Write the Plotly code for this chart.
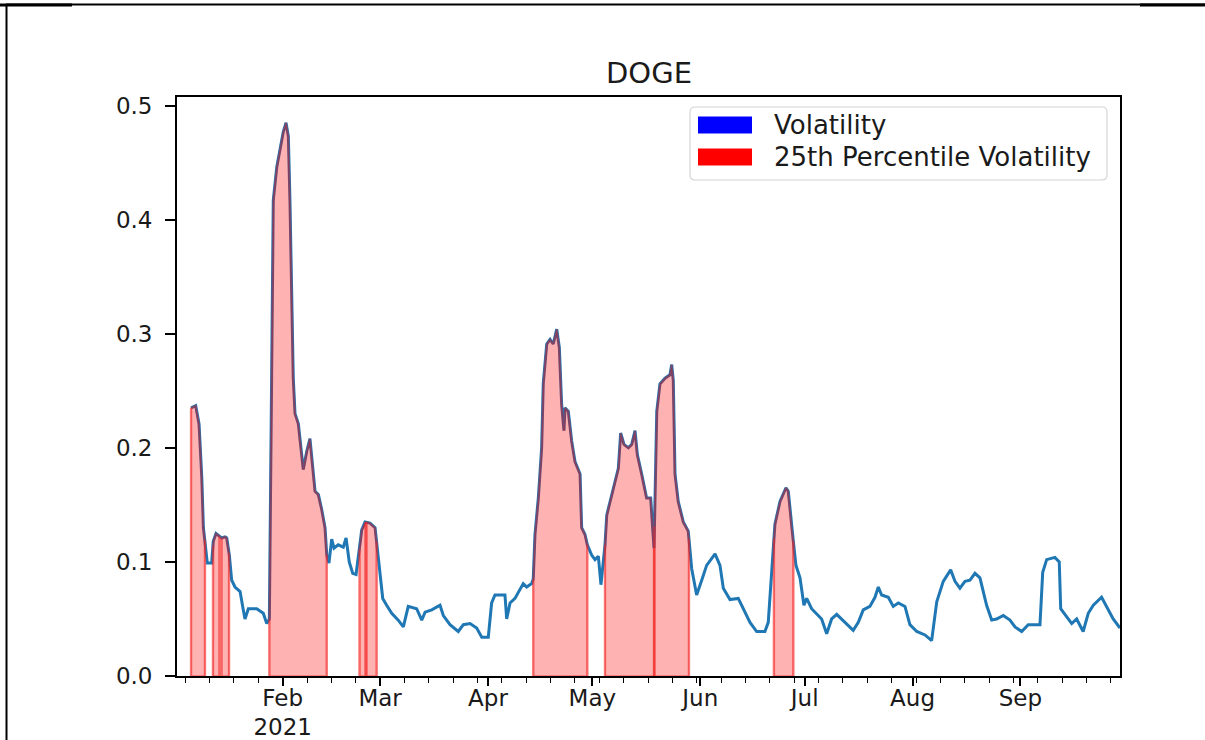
import numpy as np
import pandas as pd
import plotly.graph_objects as go

# Rolling volatility of DOGE, 2021
dates = [
    "2021-01-05 16:00", "2021-01-07 00:00", "2021-01-07 23:00", "2021-01-08 06:00", "2021-01-08 18:00",
    "2021-01-09 05:00", "2021-01-09 23:00", "2021-01-10 08:00", "2021-01-11 14:00", "2021-01-12 01:00",
    "2021-01-12 20:00", "2021-01-14 11:00", "2021-01-15 10:00", "2021-01-15 22:00", "2021-01-16 16:00",
    "2021-01-17 08:00", "2021-01-18 07:00", "2021-01-19 18:00", "2021-01-20 16:00", "2021-01-21 04:00",
    "2021-01-22 03:00", "2021-01-24 13:00", "2021-01-26 10:00", "2021-01-27 10:00", "2021-01-28 04:00",
    "2021-01-28 11:00", "2021-01-28 20:00", "2021-01-29 07:00", "2021-01-30 07:00", "2021-01-31 06:00",
    "2021-02-01 04:00", "2021-02-01 23:00", "2021-02-02 15:00", "2021-02-03 02:00", "2021-02-03 14:00",
    "2021-02-04 01:00", "2021-02-04 13:00", "2021-02-05 12:00", "2021-02-06 22:00", "2021-02-07 22:00",
    "2021-02-08 20:00", "2021-02-09 15:00", "2021-02-10 07:00", "2021-02-11 06:00", "2021-02-12 05:00",
    "2021-02-13 04:00", "2021-02-13 16:00", "2021-02-14 07:00", "2021-02-15 02:00", "2021-02-15 18:00",
    "2021-02-16 23:00", "2021-02-18 10:00", "2021-02-19 05:00", "2021-02-20 03:00", "2021-02-21 03:00",
    "2021-02-22 02:00", "2021-02-23 00:00", "2021-02-23 17:00", "2021-02-24 16:00", "2021-02-26 02:00",
    "2021-02-27 13:00", "2021-02-28 05:00", "2021-02-28 23:00", "2021-03-01 18:00", "2021-03-02 21:00",
    "2021-03-04 08:00", "2021-03-06 05:00", "2021-03-07 16:00", "2021-03-09 02:00", "2021-03-11 12:00",
    "2021-03-12 23:00", "2021-03-13 22:00", "2021-03-15 20:00", "2021-03-18 05:00", "2021-03-19 04:00",
    "2021-03-21 02:00", "2021-03-23 11:00", "2021-03-24 22:00", "2021-03-26 20:00", "2021-03-28 18:00",
    "2021-03-30 05:00", "2021-04-01 02:00", "2021-04-02 01:00", "2021-04-03 00:00", "2021-04-05 21:00",
    "2021-04-06 09:00", "2021-04-07 08:00", "2021-04-08 18:00", "2021-04-11 03:00", "2021-04-12 03:00",
    "2021-04-13 13:00", "2021-04-14 00:00", "2021-04-14 12:00", "2021-04-15 11:00", "2021-04-16 10:00",
    "2021-04-16 21:00", "2021-04-17 21:00", "2021-04-18 20:00", "2021-04-19 18:00", "2021-04-20 18:00",
    "2021-04-21 12:00", "2021-04-22 04:00", "2021-04-22 20:00", "2021-04-23 03:00", "2021-04-24 02:00",
    "2021-04-25 01:00", "2021-04-26 00:00", "2021-04-27 11:00", "2021-04-27 22:00", "2021-04-28 21:00",
    "2021-04-29 13:00", "2021-04-30 19:00", "2021-05-01 18:00", "2021-05-02 17:00", "2021-05-03 11:00",
    "2021-05-04 03:00", "2021-05-04 15:00", "2021-05-05 03:00", "2021-05-07 00:00", "2021-05-08 11:00",
    "2021-05-09 03:00", "2021-05-10 02:00", "2021-05-11 08:00", "2021-05-12 07:00", "2021-05-13 06:00",
    "2021-05-13 22:00", "2021-05-15 04:00", "2021-05-16 14:00", "2021-05-17 18:00", "2021-05-18 17:00",
    "2021-05-19 12:00", "2021-05-20 10:00", "2021-05-21 21:00", "2021-05-23 07:00", "2021-05-23 19:00",
    "2021-05-24 06:00", "2021-05-24 18:00", "2021-05-25 16:00", "2021-05-27 03:00", "2021-05-28 13:00",
    "2021-05-29 13:00", "2021-05-30 23:00", "2021-06-01 10:00", "2021-06-02 20:00", "2021-06-05 06:00",
    "2021-06-06 16:00", "2021-06-07 15:00", "2021-06-09 13:00", "2021-06-11 22:00", "2021-06-13 09:00",
    "2021-06-15 07:00", "2021-06-17 05:00", "2021-06-19 14:00", "2021-06-20 13:00", "2021-06-21 12:00",
    "2021-06-22 11:00", "2021-06-23 22:00", "2021-06-25 15:00", "2021-06-26 07:00", "2021-06-27 06:00",
    "2021-06-27 18:00", "2021-06-28 12:00", "2021-06-29 16:00", "2021-06-30 19:00", "2021-07-01 14:00",
    "2021-07-03 00:00", "2021-07-05 21:00", "2021-07-07 08:00", "2021-07-08 18:00", "2021-07-10 05:00",
    "2021-07-13 02:00", "2021-07-14 23:00", "2021-07-16 10:00", "2021-07-17 20:00", "2021-07-19 18:00",
    "2021-07-21 05:00", "2021-07-22 04:00", "2021-07-23 03:00", "2021-07-25 01:00", "2021-07-26 11:00",
    "2021-07-27 22:00", "2021-07-29 20:00", "2021-07-31 06:00", "2021-08-02 05:00", "2021-08-04 14:00",
    "2021-08-06 12:00", "2021-08-07 23:00", "2021-08-09 20:00", "2021-08-11 23:00", "2021-08-13 05:00",
    "2021-08-14 15:00", "2021-08-16 02:00", "2021-08-17 12:00", "2021-08-18 23:00", "2021-08-20 09:00",
    "2021-08-22 07:00", "2021-08-23 18:00", "2021-08-25 04:00", "2021-08-27 02:00", "2021-08-29 00:00",
    "2021-08-30 11:00", "2021-09-01 09:00", "2021-09-03 06:00", "2021-09-06 15:00", "2021-09-07 10:00",
    "2021-09-08 13:00", "2021-09-10 22:00", "2021-09-12 04:00", "2021-09-12 14:00", "2021-09-14 07:00",
    "2021-09-15 18:00", "2021-09-17 04:00", "2021-09-19 01:00", "2021-09-20 12:00", "2021-09-21 23:00",
    "2021-09-24 08:00", "2021-09-25 19:00", "2021-09-27 16:00", "2021-09-29 15:00",
]

volatility = [
    0.235, 0.237, 0.221, 0.206, 0.174,
    0.130, 0.112, 0.099, 0.099, 0.118,
    0.125, 0.121, 0.122, 0.121, 0.106,
    0.084, 0.078, 0.074, 0.058, 0.050,
    0.059, 0.059, 0.055, 0.046, 0.050,
    0.150, 0.247, 0.417, 0.446, 0.461,
    0.477, 0.485, 0.473, 0.417, 0.329,
    0.261, 0.230, 0.221, 0.181, 0.197,
    0.208, 0.182, 0.162, 0.159, 0.146,
    0.130, 0.106, 0.099, 0.120, 0.112,
    0.115, 0.113, 0.121, 0.100, 0.090,
    0.089, 0.109, 0.128, 0.135, 0.134,
    0.130, 0.112, 0.091, 0.068, 0.062,
    0.055, 0.049, 0.043, 0.061, 0.059,
    0.049, 0.056, 0.058, 0.062, 0.053,
    0.045, 0.039, 0.045, 0.046, 0.042,
    0.034, 0.034, 0.064, 0.071, 0.071,
    0.050, 0.064, 0.068, 0.081, 0.078,
    0.081, 0.085, 0.124, 0.156, 0.200,
    0.256, 0.291, 0.295, 0.291, 0.304,
    0.288, 0.238, 0.215, 0.235, 0.232,
    0.206, 0.188, 0.177, 0.130, 0.124,
    0.115, 0.106, 0.102, 0.105, 0.080,
    0.097, 0.115, 0.141, 0.165, 0.182,
    0.213, 0.203, 0.200, 0.203, 0.215,
    0.194, 0.177, 0.156, 0.156, 0.112,
    0.232, 0.256, 0.261, 0.264, 0.273,
    0.259, 0.177, 0.153, 0.135, 0.127,
    0.094, 0.071, 0.084, 0.097, 0.107,
    0.097, 0.077, 0.067, 0.068, 0.059,
    0.047, 0.039, 0.039, 0.047, 0.091,
    0.133, 0.153, 0.165, 0.162, 0.130,
    0.118, 0.097, 0.086, 0.062, 0.068,
    0.059, 0.050, 0.037, 0.050, 0.054,
    0.046, 0.040, 0.047, 0.058, 0.061,
    0.069, 0.078, 0.071, 0.069, 0.061,
    0.064, 0.061, 0.045, 0.039, 0.036,
    0.031, 0.065, 0.083, 0.093, 0.083,
    0.077, 0.083, 0.084, 0.090, 0.086,
    0.062, 0.049, 0.050, 0.053, 0.049,
    0.043, 0.039, 0.045, 0.045, 0.091,
    0.102, 0.104, 0.100, 0.059, 0.052,
    0.046, 0.050, 0.039, 0.055, 0.062,
    0.069, 0.061, 0.050, 0.042,
]

# Windows flagged as high volatility (shaded under the curve)
span_start = [
    "2021-01-05 16:00", "2021-01-11 23:00", "2021-01-14 10:00", "2021-01-28 04:00",
    "2021-02-23 02:00", "2021-02-25 02:00", "2021-04-14 00:00", "2021-05-04 15:00",
    "2021-05-18 20:00", "2021-06-22 04:00",
]
span_end = [
    "2021-01-09 16:00", "2021-01-13 20:00", "2021-01-16 14:00", "2021-02-13 16:00",
    "2021-02-24 19:00", "2021-02-28 00:00", "2021-04-29 13:00", "2021-05-18 17:00",
    "2021-05-28 18:00", "2021-06-27 18:00",
]

x_range = ["2021-01-01 15:00", "2021-09-29 15:00"]
month_ticks = ["2021-02-01", "2021-03-01", "2021-04-01", "2021-05-01",
               "2021-06-01", "2021-07-01", "2021-08-01", "2021-09-01"]
month_labels = ["Feb<br>2021", "Mar", "Apr", "May", "Jun", "Jul", "Aug", "Sep"]
y_ticks = [0.0, 0.1, 0.2, 0.3, 0.4, 0.5]

FONT = "DejaVu Sans"
INK = "#1a1a1a"
LINE_BLUE = "#1f77b4"
SHADE = "rgba(255,0,0,0.3)"
EDGE = "rgba(240,40,40,0.45)"

t = pd.DatetimeIndex(pd.to_datetime(dates))
tn = t.asi8.astype(float)
vol = np.asarray(volatility, dtype=float)

fig = go.Figure()

fig.add_trace(go.Scatter(
    x=t, y=vol, mode="lines",
    line=dict(color=LINE_BLUE, width=3),
    showlegend=False, hoverinfo="skip",
))

# Shaded polygons: from zero up to the curve inside each window
edge_x, edge_y = [], []
for s, e in zip(span_start, span_end):
    s_ts, e_ts = pd.Timestamp(s), pd.Timestamp(e)
    inside = (t > s_ts) & (t < e_ts)
    y_s = float(np.interp(s_ts.value, tn, vol))
    y_e = float(np.interp(e_ts.value, tn, vol))
    xs = [s_ts, s_ts] + list(t[inside]) + [e_ts, e_ts, s_ts]
    ys = [0.0, y_s] + list(vol[inside]) + [y_e, 0.0, 0.0]
    fig.add_trace(go.Scatter(
        x=pd.DatetimeIndex(xs), y=ys, mode="lines",
        fill="toself", fillcolor=SHADE,
        line=dict(color=SHADE, width=2),
        showlegend=False, hoverinfo="skip",
    ))
    edge_x += [s_ts, s_ts, None, e_ts, e_ts, None]
    edge_y += [0.0, y_s, None, 0.0, y_e, None]

# vertical borders at the window edges
fig.add_trace(go.Scatter(
    x=edge_x, y=edge_y, mode="lines",
    line=dict(color=EDGE, width=2.5),
    showlegend=False, hoverinfo="skip",
))

# Plot-area geometry in pixels, used to place the frame and legend
W, H = 1205, 740
L, R, T, B = 177, 1120, 97, 676


def px_x(p):
    return (p - L) / (R - L)


def px_y(p):
    return (B - p) / (B - T)


shapes = []
# outer frame lines around the figure
shapes.append(dict(type="line", xref="paper", yref="paper",
                   x0=px_x(6), x1=px_x(1205), y0=px_y(4.5), y1=px_y(4.5),
                   line=dict(color="black", width=2)))
shapes.append(dict(type="line", xref="paper", yref="paper",
                   x0=px_x(6.5), x1=px_x(6.5), y0=px_y(4), y1=px_y(745),
                   line=dict(color="black", width=2)))
shapes.append(dict(type="line", xref="paper", yref="paper",
                   x0=px_x(0), x1=px_x(72), y0=px_y(5), y1=px_y(5),
                   line=dict(color="black", width=3)))
shapes.append(dict(type="line", xref="paper", yref="paper",
                   x0=px_x(1140), x1=px_x(1205), y0=px_y(5), y1=px_y(5),
                   line=dict(color="black", width=3)))

# legend frame with rounded corners
bx0, bx1, by0, by1, rr = 690, 1107, 107, 180, 5
path = (
    f"M {px_x(bx0 + rr)} {px_y(by0)} L {px_x(bx1 - rr)} {px_y(by0)} "
    f"Q {px_x(bx1)} {px_y(by0)} {px_x(bx1)} {px_y(by0 + rr)} "
    f"L {px_x(bx1)} {px_y(by1 - rr)} "
    f"Q {px_x(bx1)} {px_y(by1)} {px_x(bx1 - rr)} {px_y(by1)} "
    f"L {px_x(bx0 + rr)} {px_y(by1)} "
    f"Q {px_x(bx0)} {px_y(by1)} {px_x(bx0)} {px_y(by1 - rr)} "
    f"L {px_x(bx0)} {px_y(by0 + rr)} "
    f"Q {px_x(bx0)} {px_y(by0)} {px_x(bx0 + rr)} {px_y(by0)} Z"
)
shapes.append(dict(type="path", xref="paper", yref="paper", path=path,
                   fillcolor="rgba(255,255,255,0.85)",
                   line=dict(color="#d4d4d4", width=1.2)))
# legend swatches
legend_items = [("Volatility", "#0000ff", 125), ("25th Percentile Volatility", "#ff0000", 157)]
annotations = []
for label, colour, cy in legend_items:
    shapes.append(dict(type="rect", xref="paper", yref="paper",
                       x0=px_x(698), x1=px_x(752), y0=px_y(cy - 8.5), y1=px_y(cy + 8.5),
                       fillcolor=colour, line=dict(width=0)))
    annotations.append(dict(xref="paper", yref="paper", x=px_x(772), y=px_y(cy),
                            xanchor="left", yanchor="middle", showarrow=False,
                            text=label, font=dict(family=FONT, size=26, color=INK)))

annotations.append(dict(xref="paper", yref="paper", x=0.5, y=px_y(73),
                        xanchor="center", yanchor="middle", showarrow=False,
                        text="DOGE", font=dict(family=FONT, size=29, color=INK)))

fig.update_layout(
    width=W, height=H,
    margin=dict(l=L, r=W - R, t=T, b=H - B, pad=0, autoexpand=False),
    paper_bgcolor="white", plot_bgcolor="white",
    showlegend=False,
    font=dict(family=FONT, color=INK, size=23),
    shapes=shapes, annotations=annotations,
    xaxis=dict(
        type="date", range=x_range, automargin=False,
        tickmode="array", tickvals=month_ticks, ticktext=month_labels,
        ticks="outside", ticklen=8, tickwidth=1.6, tickcolor="black",
        ticklabelstandoff=-8,
        minor=dict(ticks="outside", ticklen=5, tickwidth=1.3, tickcolor="black",
                   tick0="2021-01-04", dtick=7 * 24 * 3600 * 1000, showgrid=False),
        showline=True, linecolor="black", linewidth=1.8, mirror=True,
        showgrid=False, zeroline=False,
        tickfont=dict(family=FONT, size=23, color=INK),
    ),
    yaxis=dict(
        range=[0, 0.5075], automargin=False,
        tickmode="array", tickvals=y_ticks, ticktext=[f"{v:.1f}" for v in y_ticks],
        ticks="outside", ticklen=10, tickwidth=1.6, tickcolor="black",
        ticklabelstandoff=8,
        showline=True, linecolor="black", linewidth=1.8, mirror=True,
        showgrid=False, zeroline=False,
        tickfont=dict(family=FONT, size=23, color=INK),
    ),
)

fig.write_html("out.html")
